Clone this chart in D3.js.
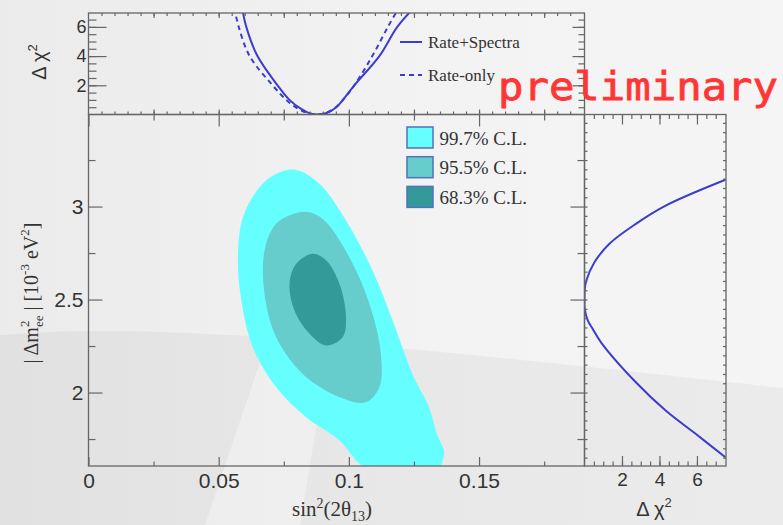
<!DOCTYPE html>
<html>
<head>
<meta charset="utf-8">
<script src="https://cdn.jsdelivr.net/npm/d3@7"></script>
<style>
  body { margin: 0; background: #efefef; }
  svg { display: block; }
  .tk line { stroke: #666; stroke-width: 1.2; }
  .tk path { display: none; }
  .tk text { font-family: "Liberation Sans", Arial, sans-serif; fill: #333; }
</style>
</head>
<body>
<svg id="chart" width="783" height="525"></svg>
<script>
// ---- data ----
// rate+spectra and rate-only delta chi2 profiles vs sin^2(2theta13)
var specX    = [0.0590, 0.0606, 0.0649, 0.0726, 0.0772, 0.0815, 0.0850, 0.0880, 0.0915, 0.0952, 0.0975, 0.1021, 0.1117, 0.1186, 0.1250];
var specChi2 = [7.3,    6.0,    4.0,    2.0,    1.0,    0.4,    0.08,   0.0,    0.1,    0.5,    0.95,   2.0,    4.0,    6.0,    7.3];
var rateX    = [0.0560, 0.0577, 0.0619, 0.0707, 0.0760, 0.0805, 0.0845, 0.0875, 0.0910, 0.0950, 0.0975, 0.1021, 0.1090, 0.1150, 0.1192];
var rateChi2 = [7.3,    6.0,    4.0,    2.0,    1.0,    0.4,    0.08,   0.0,    0.1,    0.5,    0.95,   2.0,    4.0,    6.0,    7.3];

// delta chi2 profile vs |dm2_ee|
var dmProfM    = [3.144, 3.005, 2.907, 2.80, 2.70, 2.60, 2.55, 2.50, 2.45, 2.387, 2.342, 2.27, 2.055, 1.903, 1.778, 1.652];
var dmProfChi2 = [7.52,  4.33,  2.74,  1.33, 0.53, 0.09, 0.01, 0.0,  0.01, 0.18,  0.44,  0.88, 2.74,  4.33,  5.93,  7.52];

// confidence contours (sin^2 2theta13, |dm2_ee|)
var cl997X = [0.0795, 0.0887, 0.0989, 0.1091, 0.1168, 0.1244, 0.1305, 0.1340, 0.1366, 0.1350, 0.1340, 0.1100, 0.1040, 0.0964, 0.0836, 0.0721, 0.0631, 0.0587, 0.0574, 0.0593, 0.0657, 0.0720];
var cl997Y = [3.198,  3.122,  2.925,  2.656,  2.387,  2.100,  1.930,  1.771,  1.680,  1.595,  1.570,  1.570,  1.618,  1.742,  1.867,  2.028,  2.244,  2.495,  2.727,  2.942,  3.104,  3.175];
var cl955X = [0.0810, 0.0721, 0.0676, 0.0676, 0.0721, 0.0823, 0.0964, 0.1066, 0.1117, 0.1123, 0.1079, 0.1002, 0.0913, 0.0861];
var cl955Y = [2.969,  2.907,  2.763,  2.531,  2.297,  2.100,  1.975,  1.948,  2.028,  2.208,  2.477,  2.727,  2.916,  2.964];
var cl683X = [0.0861, 0.0798, 0.0772, 0.0791, 0.0849, 0.0913, 0.0976, 0.0989, 0.0964, 0.0913];
var cl683Y = [2.746,  2.692,  2.584,  2.441,  2.316,  2.253,  2.297,  2.405,  2.584,  2.710];

var clNames  = ["99.7% C.L.", "95.5% C.L.", "68.3% C.L."];
var clColors = ["#66ffff", "#66cccc", "#339999"];
var curveNames = ["Rate+Spectra", "Rate-only"];

// tick values / labels
var xMajor = [0, 0.05, 0.1, 0.15];
var xLabels = ["0", "0.05", "0.1", "0.15"];
var yMajor = [2, 2.5, 3];
var yLabels = ["2", "2.5", "3"];
var chiMajor = [2, 4, 6];
var chiLabels = ["2", "4", "6"];

// ---- layout ----
var svg = d3.select("#chart");
var L = 88.5, R = 584.5, T = 114.5, B = 466, TT = 13, RR = 726;

var x = d3.scaleLinear().domain([0, 0.1905]).range([L, R]);
var y = d3.scaleLinear().domain([1.605, 3.495]).range([B, T]);
var yChi = d3.scaleLinear().domain([0, 6.95]).range([T, TT]);
var xChi = d3.scaleLinear().domain([0, 7.55]).range([R, RR]);

// background
var defs = svg.append("defs");
var grad = defs.append("linearGradient").attr("id", "bg").attr("x1", 0).attr("x2", 1).attr("y1", 0).attr("y2", 0);
grad.append("stop").attr("offset", 0).attr("stop-color", "#ebebeb");
grad.append("stop").attr("offset", 0.5).attr("stop-color", "#f2f2f2");
grad.append("stop").attr("offset", 1).attr("stop-color", "#f5f5f5");
svg.append("rect").attr("width", 783).attr("height", 525).attr("fill", "url(#bg)");
svg.append("path")
  .attr("d", "M0,335 C150,322 350,340 783,388 L783,525 L0,525 Z")
  .attr("fill", "#000").attr("opacity", 0.04);
svg.append("path")
  .attr("d", "M205,525 L268,338 L330,345 L300,525 Z")
  .attr("fill", "#fff").attr("opacity", 0.35);

// clip paths
function clip(id, x0, y0, w, h) {
  defs.append("clipPath").attr("id", id).append("rect")
    .attr("x", x0).attr("y", y0).attr("width", w).attr("height", h);
}
clip("cMain", L, T, R - L, B - T);
clip("cTop", L, TT, R - L, T - TT);
clip("cRight", R, T, RR - R, B - T);

// ---- main panel contours ----
var contour = d3.line()
  .x(function(d){ return x(d[0]); })
  .y(function(d){ return y(d[1]); })
  .curve(d3.curveCatmullRomClosed.alpha(0.5));

var contours = [d3.zip(cl997X, cl997Y), d3.zip(cl955X, cl955Y), d3.zip(cl683X, cl683Y)];
svg.append("g").attr("clip-path", "url(#cMain)")
  .selectAll("path")
  .data(contours)
  .enter()
  .append("path")
  .attr("d", contour)
  .attr("fill", function(d,i){ return clColors[i]; });

// legend
var leg = svg.append("g").selectAll("g")
  .data(clNames)
  .enter()
  .append("g")
  .attr("transform", function(d,i){ return "translate(407," + (127 + i * 29.7) + ")"; });
leg.append("rect")
  .attr("width", 26).attr("height", 21)
  .attr("fill", function(d,i){ return clColors[i]; })
  .attr("stroke", "#4f74b8").attr("stroke-width", 1.5);
leg.append("text")
  .attr("x", 32.5).attr("y", 17.5)
  .attr("font-family", "'Liberation Serif', 'Times New Roman', serif")
  .attr("font-size", 19).attr("fill", "#333")
  .text(function(d){ return d; });

// ---- top panel ----
var topLine = d3.line()
  .x(function(d){ return x(d[0]); })
  .y(function(d){ return yChi(d[1]); })
  .curve(d3.curveCatmullRom.alpha(0.5));
var gTop = svg.append("g").attr("clip-path", "url(#cTop)");
gTop.append("path").datum(d3.zip(rateX, rateChi2))
  .attr("d", topLine).attr("fill", "none")
  .attr("stroke", "#3c3ccf").attr("stroke-width", 2).attr("stroke-dasharray", "5,4");
gTop.append("path").datum(d3.zip(specX, specChi2))
  .attr("d", topLine).attr("fill", "none")
  .attr("stroke", "#3c3ccf").attr("stroke-width", 2);

var tleg = svg.append("g").selectAll("g")
  .data(curveNames)
  .enter()
  .append("g")
  .attr("transform", function(d,i){ return "translate(400," + (42 + i * 33) + ")"; });
tleg.append("line")
  .attr("x1", 0).attr("x2", 22).attr("y1", 0).attr("y2", 0)
  .attr("stroke", "#3c3ccf").attr("stroke-width", 2)
  .attr("stroke-dasharray", function(d,i){ return i ? "5,4" : null; });
tleg.append("text")
  .attr("x", 28).attr("y", 6)
  .attr("font-family", "'Liberation Serif', 'Times New Roman', serif")
  .attr("font-size", 17).attr("fill", "#333")
  .text(function(d){ return d; });

// ---- right panel ----
var rightLine = d3.line()
  .x(function(d){ return xChi(d[1]); })
  .y(function(d){ return y(d[0]); })
  .curve(d3.curveCatmullRom.alpha(0.5));
svg.append("g").attr("clip-path", "url(#cRight)")
  .append("path").datum(d3.zip(dmProfM, dmProfChi2))
  .attr("d", rightLine).attr("fill", "none")
  .attr("stroke", "#3c3ccf").attr("stroke-width", 2);

// ---- axes / ticks ----
function ax(tx, ty, axis) {
  return svg.append("g").attr("class", "tk")
    .attr("transform", "translate(" + tx + "," + ty + ")")
    .call(axis);
}
var none = function(){ return ""; };

// main
ax(0, B, d3.axisBottom(x).tickValues(xMajor).tickSize(-9).tickPadding(7)
  .tickFormat(function(d,i){ return xLabels[i]; }))
  .selectAll("text").attr("font-size", 21);
ax(0, B, d3.axisBottom(x).tickValues([0.025, 0.075, 0.125, 0.175]).tickSize(-4.5).tickFormat(none));
ax(0, T, d3.axisTop(x).tickValues(xMajor).tickSize(-12).tickFormat(none));
ax(0, T, d3.axisTop(x).tickValues([0.025, 0.075, 0.125, 0.175]).tickSize(-6).tickFormat(none));
ax(L, 0, d3.axisLeft(y).tickValues(yMajor).tickSize(-14).tickPadding(5)
  .tickFormat(function(d,i){ return yLabels[i]; }))
  .selectAll("text").attr("font-size", 21);
ax(L, 0, d3.axisLeft(y).tickValues([1.75, 2.25, 2.75, 3.25]).tickSize(-7).tickFormat(none));
ax(R, 0, d3.axisRight(y).tickValues(yMajor).tickSize(-14).tickFormat(none));
ax(R, 0, d3.axisRight(y).tickValues([1.75, 2.25, 2.75, 3.25]).tickSize(-7).tickFormat(none));

// top panel
ax(L, 0, d3.axisLeft(yChi).tickValues(chiMajor).tickSize(-18).tickPadding(2)
  .tickFormat(function(d,i){ return chiLabels[i]; }))
  .selectAll("text").attr("font-size", 18);
ax(L, 0, d3.axisLeft(yChi).tickValues(d3.range(0.5, 7, 0.5)).tickSize(-8).tickFormat(none));
ax(R, 0, d3.axisRight(yChi).tickValues(chiMajor).tickSize(-12).tickFormat(none));
ax(R, 0, d3.axisRight(yChi).tickValues(d3.range(0.5, 7, 0.5)).tickSize(-6).tickFormat(none));
ax(0, T, d3.axisBottom(x).tickValues(d3.range(0.005, 0.19, 0.005)).tickSize(-3).tickFormat(none));
ax(0, T, d3.axisBottom(x).tickValues([0.025, 0.05, 0.075, 0.1, 0.125, 0.15, 0.175]).tickSize(-5).tickFormat(none));
ax(0, TT, d3.axisTop(x).tickValues(d3.range(0.005, 0.19, 0.005)).tickSize(-3).tickFormat(none));
ax(0, TT, d3.axisTop(x).tickValues([0.025, 0.05, 0.075, 0.1, 0.125, 0.15, 0.175]).tickSize(-5).tickFormat(none));

// right panel
ax(0, B, d3.axisBottom(xChi).tickValues(chiMajor).tickSize(-10).tickPadding(7)
  .tickFormat(function(d,i){ return chiLabels[i]; }))
  .selectAll("text").attr("font-size", 19);
ax(0, B, d3.axisBottom(xChi).tickValues(d3.range(0.5, 7.5, 0.5)).tickSize(-4.5).tickFormat(none));
ax(0, T, d3.axisTop(xChi).tickValues(chiMajor).tickSize(-10).tickFormat(none));
ax(0, T, d3.axisTop(xChi).tickValues(d3.range(0.5, 7.5, 0.5)).tickSize(-4.5).tickFormat(none));
ax(R, 0, d3.axisLeft(y).tickValues(d3.range(1.65, 3.49, 0.05)).tickSize(-3).tickFormat(none));
ax(RR, 0, d3.axisRight(y).tickValues(d3.range(1.65, 3.49, 0.05)).tickSize(-3).tickFormat(none));

// frames
[[L, T, R - L, B - T], [L, TT, R - L, T - TT], [R, T, RR - R, B - T]].forEach(function(f){
  svg.append("rect").attr("x", f[0]).attr("y", f[1]).attr("width", f[2]).attr("height", f[3])
    .attr("fill", "none").attr("stroke", "#666").attr("stroke-width", 1.3);
});

// ---- axis titles ----
var serif = "'Liberation Serif', 'Times New Roman', serif";
var sans = "'Liberation Sans', Arial, sans-serif";

var xt = svg.append("text").attr("x", 332).attr("y", 516).attr("text-anchor", "middle")
  .attr("font-family", serif).attr("font-size", 21).attr("fill", "#333");
xt.append("tspan").text("sin");
xt.append("tspan").attr("dy", -8).attr("font-size", 14).text("2");
xt.append("tspan").attr("dy", 8).text("(2θ");
xt.append("tspan").attr("dy", 5).attr("font-size", 14).text("13");
xt.append("tspan").attr("dy", -5).text(")");

var yt = svg.append("text").attr("transform", "translate(37.5,293) rotate(-90)")
  .attr("text-anchor", "middle")
  .attr("font-family", serif).attr("font-size", 20).attr("fill", "#333");
yt.append("tspan").text("| Δm");
yt.append("tspan").attr("dy", -9).attr("font-size", 13).text("2");
yt.append("tspan").attr("dx", -6.5).attr("dy", 14).attr("font-size", 13).text("ee");
yt.append("tspan").attr("dy", -5).text(" | [10");
yt.append("tspan").attr("dy", -9).attr("font-size", 13).text("-3");
yt.append("tspan").attr("dy", 9).text(" eV");
yt.append("tspan").attr("dy", -9).attr("font-size", 13).text("2");
yt.append("tspan").attr("dy", 9).text("]");

var tt = svg.append("text").attr("transform", "translate(45.5,62) rotate(-90)")
  .attr("text-anchor", "middle")
  .attr("font-family", sans).attr("font-size", 20).attr("fill", "#333");
tt.append("tspan").text("Δ χ");
tt.append("tspan").attr("dy", -9).attr("font-size", 13).text("2");

var rt = svg.append("text").attr("x", 654).attr("y", 516).attr("text-anchor", "middle")
  .attr("font-family", sans).attr("font-size", 20).attr("fill", "#333");
rt.append("tspan").text("Δ χ");
rt.append("tspan").attr("dy", -9).attr("font-size", 13).text("2");

// watermark
svg.append("text").attr("x", 498).attr("y", 100)
  .attr("font-family", "'DejaVu Sans Mono', monospace")
  .attr("font-size", 39).attr("fill", "#ff3636")
  .attr("stroke", "#ff3636").attr("stroke-width", 0.8)
  .attr("textLength", 280).attr("lengthAdjust", "spacingAndGlyphs")
  .text("preliminary");
</script>
</body>
</html>
